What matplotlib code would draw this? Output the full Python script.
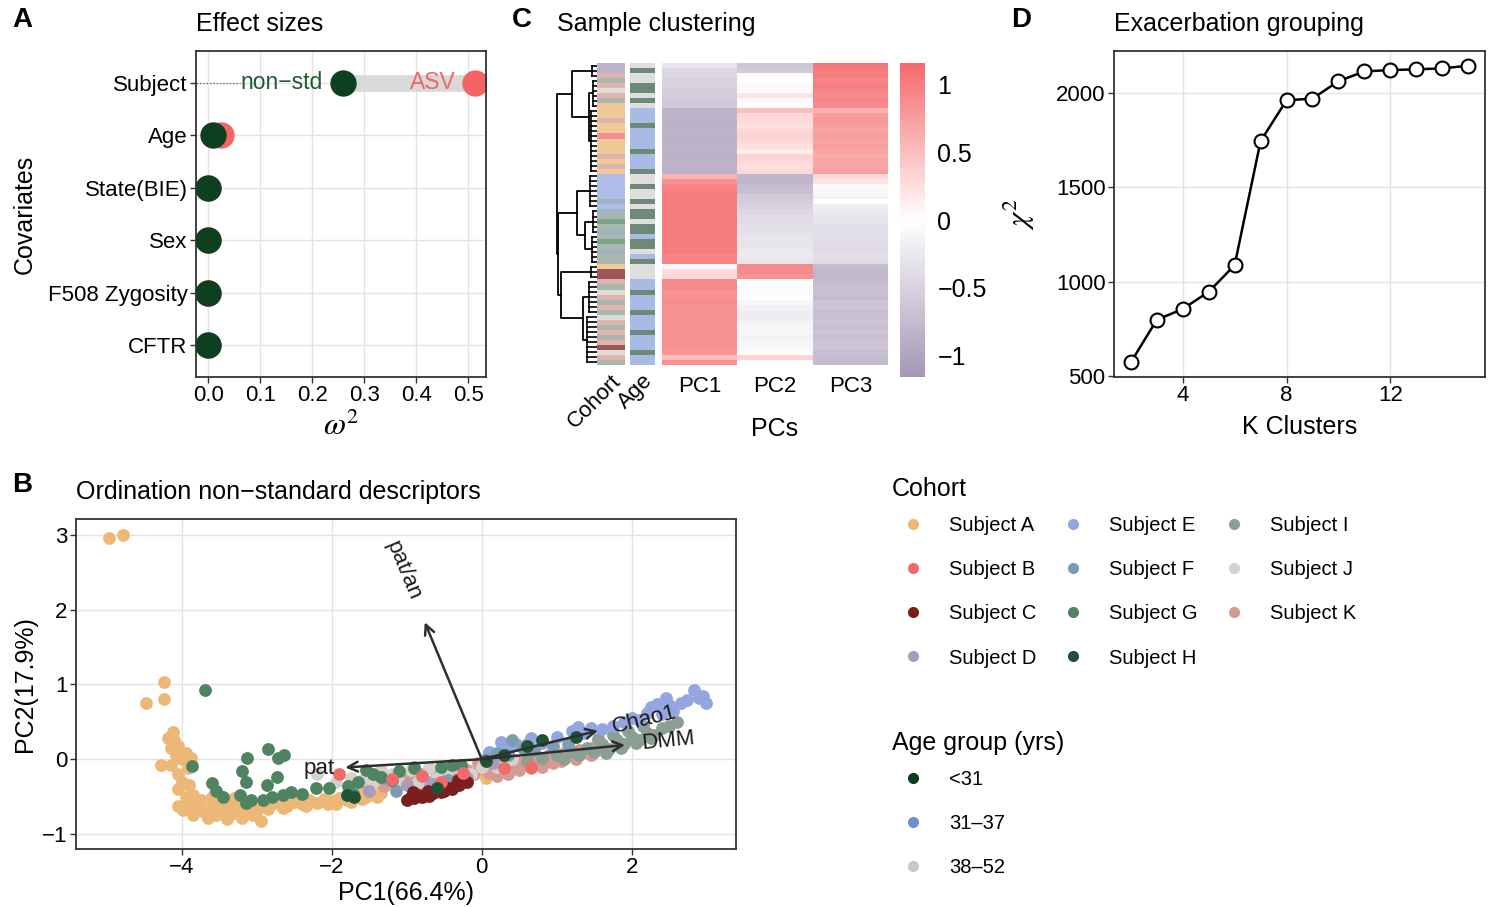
import numpy as np
import matplotlib.pyplot as plt
from matplotlib.colors import LinearSegmentedColormap, ListedColormap, Normalize
from matplotlib.cm import ScalarMappable
from matplotlib.lines import Line2D

plt.rcParams['font.family'] = ['Liberation Sans', 'DejaVu Sans']
plt.rcParams['mathtext.fontset'] = 'stix'

# ---- data ----
# A: effect sizes
covariates = ['CFTR', 'F508 Zygosity', 'Sex', 'State(BIE)', 'Age', 'Subject']
omega_asv = [0.0, 0.0, 0.0, 0.0, 0.024, 0.512]
omega_nonstd = [0.0, 0.0, 0.0, 0.0, 0.008, 0.259]

# D: exacerbation grouping
k_clusters = [2, 3, 4, 5, 6, 7, 8, 9, 10, 11, 12, 13, 14, 15]
chi2 = [574, 799, 856, 947, 1088, 1745, 1961, 1970, 2062, 2114, 2121, 2125, 2130, 2144]

# C: heatmap rows (top to bottom)
heat_pc1 = [-0.3, -0.45, -0.45, -0.5, -0.5, -0.55, -0.55, -0.6, -0.6,
            -0.85, -0.82, -0.86, -0.85, -0.84, -0.86, -0.85, -0.85, -0.83, -0.86, -0.85, -0.84, -0.86,
            0.6, 0.85, 0.95, 1.0, 1.0, 1.0, 1.0, 1.0, 1.0, 1.0, 1.0, 1.0, 1.0, 1.0, 1.0, 1.0, 0.95, 0.95,
            -0.1, 0.25, 0.3,
            0.9, 0.9, 0.85, 0.85, 0.9, 0.85, 0.85, 0.85, 0.85, 0.85, 0.85, 0.85, 0.85, 0.85, 0.8, 0.5, 0.85]
heat_pc2 = [-0.65, -0.6, -0.05, 0.0, -0.05, 0.05, 0.2, 0.05, 0.0,
            0.5, 0.3, 0.3, 0.25, 0.3, 0.35, 0.3, 0.25, 0.15, 0.35, 0.3, 0.25, 0.3,
            -0.8, -0.8, -0.75, -0.7, -0.6, -0.55, -0.5, -0.45, -0.4, -0.4, -0.35, -0.35, -0.3, -0.3, -0.3, -0.25, -0.25, -0.3,
            0.9, 0.9, 0.85,
            0.0, -0.05, -0.05, 0.0, -0.1, -0.15, -0.2, -0.2, -0.15, -0.1, -0.1, -0.15, -0.1, -0.1, -0.05, 0.35, -0.05]
heat_pc3 = [1.05, 1.0, 1.0, 0.95, 1.0, 0.95, 0.9, 0.95, 0.9,
            0.6, 0.75, 0.8, 0.75, 0.7, 0.75, 0.7, 0.75, 0.7, 0.65, 0.7, 0.7, 0.75,
            0.3, 0.2, 0.05, -0.1, -0.15, 0.0, -0.2, -0.25, -0.3, -0.3, -0.35, -0.35, -0.35, -0.4, -0.4, -0.4, -0.35, -0.4,
            -0.75, -0.8, -0.8,
            -0.75, -0.7, -0.7, -0.75, -0.65, -0.65, -0.7, -0.7, -0.65, -0.7, -0.65, -0.7, -0.65, -0.65, -0.7, -0.75, -0.75]
row_cohort = list('DDKIKJKIA' 'AAKAABAAAKAKA' 'EEEEEFEFIGIFIGIFII' 'ACC' 'KIJKIKIJKIKIKCJKI')
row_age = [2, 0, 2, 2, 0, 0, 2, 0, 2,
           1, 1, 1, 0, 1, 1, 1, 1, 0, 1, 1, 1, 0,
           2, 2, 0, 2, 2, 0, 2, 0, 0, 2, 0, 0, 1, 0, 0, 2, 1, 0,
           2, 2, 2,
           1, 1, 0, 1, 1, 1, 0, 1, 1, 1, 0, 1, 1, 1, 0, 1, 1]
# dendrogram: (height, left, right) or leaf group (height, n_rows)
tree = (1.0,
        (0.62, (0.12, 3), (0.2, (0.1, 6), (0.15, 13))),
        (0.97,
         (0.51, (0.18, 7), (0.3, (0.1, 5), (0.12, 6))),
         (0.9, (0.15, 3), (0.36, (0.2, 7), (0.25, 10)))))

# legend groups
cohort_labels = ['Subject ' + s for s in 'ABCDEFGHIJK']
cohort_colors = ['#EDB877', '#F26B6B', '#7B1E1E', '#A99BBA', '#93A6E0', '#7C9DAF',
                 '#4F8462', '#1F5237', '#8C9F93', '#D5D2CD', '#D59B93']
age_labels = ['<31', '31\u201337', '38\u201352']
age_colors = ['#0D3B1F', '#6E8FD3', '#C8C8C8']

# B: ordination scores per subject
pts = {}
pts['A'] = [(-4.97, 2.95), (-4.78, 2.99), (-4.48, 0.75), (-4.24, 1.03), (-4.24, 0.80),
            (-4.12, 0.36), (-4.10, 0.25), (-4.14, 0.15), (-4.05, 0.18), (-4.08, 0.05), (-4.28, -0.08),
            (-4.15, -0.08), (-4.0, 0.0), (-3.95, 0.08), (-3.88, 0.02), (-4.05, -0.2), (-4.0, -0.3),
            (-4.05, -0.4), (-3.9, -0.35), (-3.95, -0.5), (-4.05, -0.62), (-3.9, -0.6), (-3.8, -0.65),
            (-3.85, -0.75), (-3.75, -0.55), (-3.7, -0.7), (-3.6, -0.62), (-3.55, -0.75), (-3.5, -0.58),
            (-3.45, -0.7), (-3.4, -0.8), (-3.35, -0.65), (-3.3, -0.72), (-3.25, -0.6), (-3.2, -0.78),
            (-3.15, -0.68), (-3.1, -0.62), (-3.05, -0.75), (-3.0, -0.68), (-2.95, -0.82), (-3.3, -0.52),
            (-3.6, -0.5), (-3.85, -0.48), (-2.9, -0.58), (-2.8, -0.6), (-2.7, -0.55), (-2.6, -0.62),
            (-2.5, -0.57), (-2.4, -0.6), (-2.3, -0.55), (-2.2, -0.58), (-2.1, -0.53), (-2.0, -0.56),
            (-1.9, -0.52), (-1.8, -0.55), (-1.7, -0.5), (-1.6, -0.53), (-1.5, -0.48), (-1.4, -0.5),
            (-1.35, -0.45), (-2.65, -0.65), (-2.35, -0.63), (-2.05, -0.6), (-1.75, -0.57), (-1.55, -0.5),
            (-4.18, 0.28), (-4.02, 0.1), (-3.92, -0.12), (-3.98, -0.68), (-3.65, -0.78), (-3.42, -0.6),
            (-3.12, -0.72), (-2.85, -0.66), (-2.45, -0.52), (-1.95, -0.6), (-1.65, -0.46),
            (-0.35, -0.3), (0.05, -0.25)]
pts['K'] = [(-1.55, -0.33), (-1.4, -0.3), (-1.3, -0.36), (-1.2, -0.25), (-1.1, -0.32), (-1.0, -0.22),
            (-0.9, -0.28), (-0.8, -0.2), (-0.7, -0.3), (-0.6, -0.18), (-0.5, -0.25), (-0.4, -0.2),
            (-0.3, -0.22), (-0.2, -0.15), (-0.1, -0.2), (0.0, -0.12), (0.1, -0.18), (0.15, -0.08),
            (0.25, -0.15), (0.3, -0.05), (0.4, -0.12), (0.45, -0.02), (0.55, -0.08), (0.6, 0.0),
            (0.7, -0.06), (0.75, 0.03), (0.85, -0.02), (0.9, 0.06), (1.0, 0.02), (1.1, 0.08),
            (1.2, 0.05), (1.3, 0.12), (1.4, 0.1), (1.5, 0.16), (1.6, 0.14), (0.2, -0.22), (0.5, -0.15),
            (0.8, -0.1), (1.05, -0.03), (-0.05, -0.05), (0.35, -0.2), (0.65, -0.12), (0.95, -0.05),
            (1.25, 0.0), (1.45, 0.05), (-0.85, -0.35), (-0.25, -0.28)]
pts['I'] = [(0.6, -0.02), (0.8, 0.02), (1.0, 0.05), (1.1, 0.0), (1.2, 0.1), (1.3, 0.06), (1.4, 0.15),
            (1.5, 0.1), (1.6, 0.2), (1.7, 0.14), (1.8, 0.25), (1.9, 0.2), (2.0, 0.3), (2.1, 0.26),
            (2.2, 0.35), (2.3, 0.32), (2.4, 0.42), (2.5, 0.45), (2.6, 0.5), (1.75, 0.32), (1.95, 0.38),
            (2.15, 0.45), (1.55, 0.27), (-0.6, -0.2), (-1.3, -0.25), (-0.9, -0.1), (1.65, 0.08),
            (1.85, 0.15), (2.05, 0.22), (2.25, 0.28)]
pts['E'] = [(0.25, 0.23), (0.35, 0.12), (0.45, 0.2), (0.6, 0.2), (0.65, 0.28), (0.8, 0.22), (1.0, 0.3),
            (1.2, 0.38), (1.28, 0.43), (1.35, 0.35), (1.45, 0.42), (1.6, 0.4), (1.75, 0.45), (1.9, 0.5),
            (2.0, 0.55), (2.1, 0.52), (2.2, 0.62), (2.34, 0.74), (2.4, 0.6), (2.5, 0.72), (2.55, 0.65),
            (2.65, 0.75), (2.74, 0.79), (2.83, 0.92), (2.9, 0.82), (2.99, 0.75), (2.95, 0.85),
            (2.45, 0.82), (2.25, 0.7), (0.1, 0.1), (-0.75, -0.3), (-1.15, -0.35)]
pts['J'] = [(-2.2, -0.2), (-1.95, -0.3), (-1.6, -0.28), (-1.45, -0.3), (-1.35, -0.15), (-1.2, -0.2),
            (-1.1, -0.3), (-0.95, -0.15), (-0.85, -0.3), (-0.7, -0.12), (-0.6, -0.25), (-0.45, -0.15),
            (-0.3, -0.12), (-0.15, -0.2), (0.0, -0.1), (0.2, -0.1), (0.4, 0.0), (-1.75, -0.25)]
pts['F'] = [(-1.15, -0.42), (-0.45, -0.28), (0.05, 0.0), (0.2, 0.08), (0.35, 0.05), (0.55, 0.15),
            (0.7, 0.12), (0.95, 0.18), (1.15, 0.2), (0.4, 0.25)]
pts['D'] = [(-1.5, -0.42), (-1.0, -0.35), (-0.65, -0.33), (-0.2, -0.25), (0.15, -0.05)]
pts['G'] = [(-3.69, 0.93), (-3.86, -0.09), (-3.6, -0.32), (-3.55, -0.42), (-3.45, -0.5), (-3.2, -0.16),
            (-3.13, 0.02), (-3.15, -0.3), (-3.22, -0.48), (-3.15, -0.59), (-3.08, -0.55), (-2.85, 0.13),
            (-2.72, 0.01), (-2.64, 0.05), (-2.73, -0.24), (-2.87, -0.35), (-2.92, -0.54), (-2.8, -0.5),
            (-2.65, -0.48), (-2.55, -0.44), (-2.4, -0.47), (-2.21, -0.39), (-2.04, -0.38), (-1.79, -0.36),
            (-1.72, -0.47), (-1.55, -0.15), (-1.45, -0.2), (-1.35, -0.24), (-1.1, -0.16), (-0.9, -0.12),
            (-0.55, -0.1), (-0.4, -0.08), (-0.28, -0.08), (-1.65, -0.3), (-1.2, -0.28)]
pts['C'] = [(-1.0, -0.55), (-0.95, -0.5), (-0.9, -0.52), (-0.85, -0.48), (-0.8, -0.5), (-0.75, -0.47),
            (-0.7, -0.49), (-0.65, -0.45), (-0.6, -0.43), (-0.55, -0.44), (-0.5, -0.42), (-0.45, -0.38),
            (-0.4, -0.4), (-0.35, -0.35), (-0.3, -0.34), (-0.25, -0.3), (-0.2, -0.3), (-0.92, -0.44),
            (-0.72, -0.42), (-0.52, -0.36), (-0.32, -0.28)]
pts['B'] = [(-1.9, -0.2), (-1.2, -0.27), (-0.8, -0.22), (-0.55, -0.3), (-0.25, -0.18), (0.3, -0.12), (0.65, -0.1)]
pts['H'] = [(-1.8, -0.48), (-1.7, -0.5), (-0.6, -0.38), (0.05, -0.02), (0.3, 0.05), (0.8, 0.25),
            (0.6, 0.18), (1.25, 0.3)]

# loadings
load_names = ['pat/an', 'pat', 'Chao1', 'DMM']
load_pc1 = [-0.76, -1.82, 1.55, 1.91]
load_pc2 = [1.83, -0.11, 0.38, 0.19]

# ---- figure ----
W, H = 1496, 907
fig = plt.figure(figsize=(W / 100, H / 100), dpi=100)


def box(x0, y0, x1, y1):
    return fig.add_axes([x0 / W, 1 - y1 / H, (x1 - x0) / W, (y1 - y0) / H])


def text(x, y, s, **kw):
    fig.text(x / W, 1 - y / H, s, **kw)


def style(ax):
    for sp in ax.spines.values():
        sp.set_linewidth(1.3)
        sp.set_color('#333333')
    ax.tick_params(length=4, width=1, color='#333333', labelsize=16, labelcolor='black', pad=2)
    ax.grid(True, color='#E3E3E3', lw=1)
    ax.set_axisbelow(True)


GREEN = '#0E3F21'
RED = '#F46466'

# ---- A ----
ax = box(196, 51, 486, 377)
style(ax)
yy = np.arange(len(covariates))
ax.plot([omega_nonstd[-1], omega_asv[-1]], [yy[-1], yy[-1]], color='#D9D9D9', lw=12, solid_capstyle='butt', zorder=1)
ax.plot([-0.03, 0.06], [yy[-1], yy[-1]], ls=':', color='#555555', lw=0.9, zorder=1)
ax.scatter(omega_asv, yy, s=360, color=RED, zorder=2, linewidths=0)
ax.scatter(omega_nonstd, yy, s=360, color=GREEN, zorder=3, linewidths=0)
ax.text(omega_nonstd[-1] - 0.04, yy[-1], 'non\u2212std', color='#1E5A33', fontsize=16.5, ha='right', va='center')
ax.text(omega_asv[-1] - 0.037, yy[-1], 'ASV', color=RED, fontsize=16.5, ha='right', va='center')
ax.set_yticks(yy)
ax.set_yticklabels(covariates)
ax.set_xticks([0.0, 0.1, 0.2, 0.3, 0.4, 0.5])
ax.set_xticklabels(['0.0', '0.1', '0.2', '0.3', '0.4', '0.5'])
ax.set_xlim(-0.024, 0.534)
ax.set_ylim(-0.6, 5.6)
ax.set_xlabel(r'$\omega^2$', fontsize=23, labelpad=4)
ax.set_ylabel('Covariates', fontsize=18, labelpad=8)
text(196, 24, 'Effect sizes', fontsize=18, va='center')
text(22, 20, 'A', fontsize=20, fontweight='bold', va='center', ha='center')

# ---- C ----
nrow = len(heat_pc1)
heat_cmap = LinearSegmentedColormap.from_list('pcs', ['#A597B5', '#FFFFFF', '#F5696B'])
heat_norm = Normalize(-1.16, 1.16)

axd = box(556, 63, 597, 365)


def draw_tree(node, start):
    if len(node) == 2:
        h, n = node
        rows = start + np.arange(n) + 0.5
        for r in rows:
            axd.plot([0, h], [r, r], color='black', lw=1.2)
        axd.plot([h, h], [rows[0], rows[-1]], color='black', lw=1.2)
        return rows.mean(), h, start + n
    h, left, right = node
    p1, h1, s = draw_tree(left, start)
    p2, h2, s = draw_tree(right, s)
    axd.plot([h1, h, h, h2], [p1, p1, p2, p2], color='black', lw=1.3)
    return (p1 + p2) / 2, h, s


draw_tree(tree, 0)
axd.set_xlim(1.02, 0)
axd.set_ylim(nrow, 0)
axd.axis('off')

axc = box(597, 63, 625, 365)
codes = np.array(['ABCDEFGHIJK'.index(c) for c in row_cohort]).reshape(-1, 1)
axc.pcolormesh(codes, cmap=ListedColormap(cohort_colors), vmin=-0.5, vmax=10.5, alpha=0.75)
axc.set_ylim(nrow, 0)
axc.set_yticks([])
axc.set_xticks([0.5])
axc.set_xticklabels(['Cohort'], rotation=45, ha='right', rotation_mode='anchor', fontsize=16)
axc.tick_params(length=0, pad=4)
for sp in axc.spines.values():
    sp.set_visible(False)

axa = box(630, 63, 655, 365)
axa.pcolormesh(np.array(row_age).reshape(-1, 1), cmap=ListedColormap(age_colors), vmin=-0.5, vmax=2.5, alpha=0.6)
axa.set_ylim(nrow, 0)
axa.set_yticks([])
axa.set_xticks([0.5])
axa.set_xticklabels(['Age'], rotation=45, ha='right', rotation_mode='anchor', fontsize=16)
axa.tick_params(length=0, pad=4)
for sp in axa.spines.values():
    sp.set_visible(False)

axh = box(662, 63, 888, 365)
heat = np.column_stack([heat_pc1, heat_pc2, heat_pc3])
axh.pcolormesh(heat, cmap=heat_cmap, norm=heat_norm)
axh.set_ylim(nrow, 0)
axh.set_yticks([])
axh.set_xticks([0.5, 1.5, 2.5])
axh.set_xticklabels(['PC1', 'PC2', 'PC3'], fontsize=16)
axh.tick_params(length=0, pad=8)
axh.set_xlabel('PCs', fontsize=18, labelpad=14)
for sp in axh.spines.values():
    sp.set_visible(False)

cax = box(900, 63, 925, 377)
cb = fig.colorbar(ScalarMappable(norm=heat_norm, cmap=heat_cmap), cax=cax)
cb.outline.set_visible(False)
cb.set_ticks([-1, -0.5, 0, 0.5, 1])
cb.set_ticklabels(['\u22121', '\u22120.5', '0', '0.5', '1'])
cax.tick_params(length=0, labelsize=18, pad=9)
text(557, 24, 'Sample clustering', fontsize=18, va='center')
text(522, 20, 'C', fontsize=20, fontweight='bold', va='center', ha='center')

# ---- D ----
ax = box(1114, 51, 1485, 377)
style(ax)
ax.plot(k_clusters, chi2, color='black', lw=1.8, marker='o', markersize=10,
        markerfacecolor='white', markeredgecolor='black', markeredgewidth=1.5)
ax.set_xticks([4, 8, 12])
ax.set_yticks([500, 1000, 1500, 2000])
ax.set_xlim(1.35, 15.65)
ax.set_ylim(496, 2222)
ax.set_xlabel('K Clusters', fontsize=18, labelpad=6)
ax.set_ylabel(r'$\chi^2$', fontsize=22, labelpad=14)
text(1114, 24, 'Exacerbation grouping', fontsize=18, va='center')
text(1021, 20, 'D', fontsize=20, fontweight='bold', va='center', ha='center')

# ---- B ----
ax = box(76, 519, 736, 849)
style(ax)
for s in 'AKIEJFDGCBH':
    xy = np.array(pts[s])
    ax.scatter(xy[:, 0], xy[:, 1], s=85, color=cohort_colors['ABCDEFGHIJK'.index(s)], linewidths=0, zorder=2)
lab_scale = [1.38, 1.19, 1.4, 1.3]
for name, lx, ly, sc in zip(load_names, load_pc1, load_pc2, lab_scale):
    ax.annotate('', xy=(lx, ly), xytext=(0, 0),
                arrowprops=dict(arrowstyle='->,head_length=0.7,head_width=0.35', color='#2E2E2E', lw=1.8,
                                shrinkA=0, shrinkB=0), zorder=3)
    ang = np.degrees(np.arctan2(ly, lx))
    if ang > 90:
        ang -= 180
    elif ang < -90:
        ang += 180
    if name == 'pat':
        ang = 0
    ax.text(lx * sc, ly * sc, name, fontsize=16, rotation=ang, rotation_mode='anchor',
            ha='center', va='center', color='#1A1A1A', zorder=4)
ax.set_xticks([-4, -2, 0, 2])
ax.set_yticks([-1, 0, 1, 2, 3])
ax.set_xlim(-5.41, 3.39)
ax.set_ylim(-1.2, 3.21)
ax.set_xlabel('PC1(66.4%)', fontsize=18, labelpad=2)
ax.set_ylabel('PC2(17.9%)', fontsize=18, labelpad=4)
text(76, 492, 'Ordination non\u2212standard descriptors', fontsize=18, va='center')
text(22, 485, 'B', fontsize=20, fontweight='bold', va='center', ha='center')

# ---- legends ----
text(892, 489, 'Cohort', fontsize=18, va='center')
h1 = [Line2D([], [], marker='o', ls='', color=c, markersize=7) for c in cohort_colors]
fig.legend(h1, cohort_labels, ncol=3, loc='upper left', bbox_to_anchor=(903 / W, 1 - 516 / H),
           frameon=False, fontsize=14.5, handlelength=1.0, handletextpad=1.3, columnspacing=1.3,
           labelspacing=1.25, borderpad=0, borderaxespad=0)
text(892, 743, 'Age group (yrs)', fontsize=18, va='center')
h2 = [Line2D([], [], marker='o', ls='', color=c, markersize=7) for c in age_colors]
fig.legend(h2, age_labels, loc='upper left', bbox_to_anchor=(903 / W, 1 - 770 / H),
           frameon=False, fontsize=14.5, handlelength=1.0, handletextpad=1.3,
           labelspacing=1.25, borderpad=0, borderaxespad=0)

fig.savefig('out.png', dpi=100)
